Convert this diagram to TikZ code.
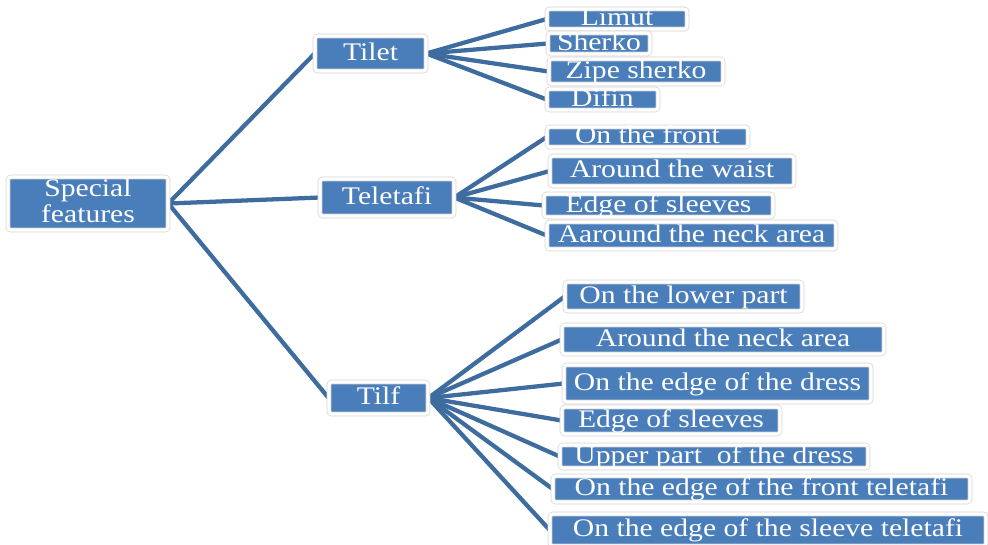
\documentclass[tikz,border=0pt]{standalone}
\usepackage{fontspec}
\setmainfont{Liberation Serif}[FakeStretch=1.17]
\usetikzlibrary{backgrounds}
\definecolor{boxblue}{HTML}{4A7EBB}
\definecolor{linkblue}{HTML}{3E6C9F}
\definecolor{rimgray}{HTML}{D2D2D2}
\tikzset{
  box/.style={draw=rimgray, line width=0.5pt, double=white, double distance=2.4pt,
    fill=boxblue, rounded corners=2pt, inner sep=0pt, text=white,
    font=\fontsize{19}{19.5}\selectfont, text height=9.8pt, text depth=0pt},
  sz/.style 2 args={minimum width=#1*0.75pt, minimum height=#2*0.75pt},
  link/.style={draw=linkblue, line width=3.2pt}}
\begin{document}
\begin{tikzpicture}[x=0.75pt,y=-0.75pt]
\useasboundingbox (0,0) rectangle (988,544);

\node[box, sz={160}{53}, text height=0pt, text depth=0pt] (sf) at (88,203.5)
  {\raisebox{-14.6pt}[0pt][0pt]{\begin{tabular}[b]{@{}c@{}}Special\\features\end{tabular}}};

\node[box, sz={111}{35}] (tilet) at (370.5,53.5) {Tilet};
\node[box, sz={134}{37}] (teletafi) at (387,197.5) {Teletafi};
\node[box, sz={99}{32}] (tilf) at (378.5,398) {Tilf};

\node[box, sz={140}{20}] (a1) at (617,19) {Limut};
\node[box, sz={102}{21}] (a2) at (599,43.5) {Sherko};
\node[box, sz={174}{25}] (a3) at (636,71.5) {Zipe sherko};
\node[box, sz={111}{21}] (a4) at (602.5,99.5) {Difin};

\node[box, sz={201}{20}] (b1) at (647.5,137) {On the front};
\node[box, sz={244}{30}] (b2) at (672,171) {Around the waist};
\node[box, sz={229}{23}] (b3) at (658.5,205.5) {Edge of sleeves};
\node[box, sz={289}{27}] (b4) at (691.5,235.5) {Aaround the neck area};

\node[box, sz={237}{29}] (c1) at (683.5,296.5) {On the lower part};
\node[box, sz={322}{29}] (c2) at (723,339.5) {Around the neck area};
\node[box, sz={307}{37}] (c3) at (717.5,383.5) {On the edge of the dress};
\node[box, sz={218}{27}] (c4) at (671,420.5) {Edge of sleeves};
\node[box, sz={308}{23}] (c5) at (714,456.5) {Upper part\ \ of the dress};
\node[box, sz={417}{26}] (c6) at (761.5,489) {On the edge of the front teletafi};
\node[box, sz={436}{32}] (c7) at (768,530) {On the edge of the sleeve teletafi};

\begin{scope}[on background layer]
\draw[link] (sf.east) -- (tilet.west);
\draw[link] (sf.east) -- (teletafi.west);
\draw[link] (sf.east) -- (tilf.west);
\foreach \n in {a1,a2,a3,a4} \draw[link] (tilet.east) -- (\n.west);
\foreach \n in {b1,b2,b3,b4} \draw[link] (teletafi.east) -- (\n.west);
\foreach \n in {c1,c2,c3,c4,c5,c6,c7} \draw[link] (tilf.east) -- (\n.west);
\end{scope}
\end{tikzpicture}
\end{document}
